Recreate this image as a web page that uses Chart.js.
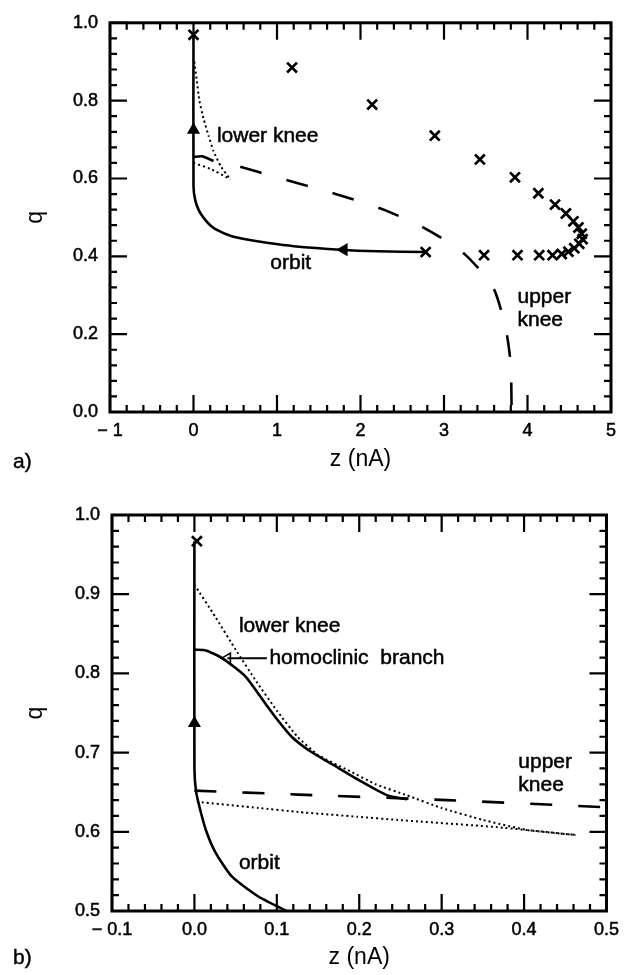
<!DOCTYPE html>
<html>
<head>
<meta charset="utf-8">
<script src="https://cdn.jsdelivr.net/npm/chart.js@4.4.1/dist/chart.umd.min.js"></script>
<style>
  body { margin: 0; background: #fff; }
  #wrap { position: relative; width: 627px; height: 975px; }
  canvas { position: absolute; left: 0; }
  .tag { position: absolute; left: 13px; font: 21px "Liberation Sans", Arial, sans-serif; color: #000;
         -webkit-text-stroke: 0.4px #000; }
</style>
</head>
<body>
<div id="wrap">
  <canvas id="chartA" width="627" height="480" style="top:0"></canvas>
  <canvas id="chartB" width="627" height="495" style="top:480px"></canvas>
  <div class="tag" style="top:449px">a)</div>
  <div class="tag" style="top:945px">b)</div>
</div>
<script>
// ---- panel a: full view ----
const orbitAZ = [2.78, 2.2, 1.76, 1.2, 0.9, 0.64, 0.45, 0.28, 0.2, 0.117, 0.06, 0.02, 0.0, 0.0];
const orbitAQ = [0.411, 0.413, 0.417, 0.426, 0.434, 0.443, 0.452, 0.468, 0.48, 0.5, 0.52, 0.545, 0.58, 0.969];
const homoAZ = [0.0, 0.1, 0.24];
const homoAQ = [0.655, 0.657, 0.645];
const kneeA1Z = [0.01, 0.04, 0.07, 0.12, 0.18, 0.24, 0.33, 0.44];
const kneeA1Q = [0.9, 0.85, 0.8, 0.754, 0.71, 0.67, 0.63, 0.598];
const kneeA2Z = [0.0, 0.2, 0.44];
const kneeA2Q = [0.64, 0.625, 0.598];
const upperAZ = [0.56, 1.0, 1.5, 1.92, 2.3, 2.7, 3.0, 3.25, 3.45, 3.6, 3.7, 3.76, 3.8, 3.81];
const upperAQ = [0.63, 0.603, 0.573, 0.546, 0.518, 0.48, 0.443, 0.405, 0.36, 0.315, 0.25, 0.19, 0.12, 0.0];
const crossAZ = [0.0, 1.18, 2.14, 2.89, 3.43, 3.85, 4.13, 4.33, 4.46, 4.55, 4.61, 4.65, 4.66, 4.62, 4.56, 4.49, 4.41, 4.3, 4.14, 3.88, 3.48, 2.78];
const crossAQ = [0.969, 0.885, 0.79, 0.71, 0.649, 0.603, 0.562, 0.533, 0.51, 0.49, 0.474, 0.458, 0.444, 0.432, 0.421, 0.412, 0.406, 0.403, 0.403, 0.403, 0.403, 0.411];
const arrowsA = [{x: 1.8, y: 0.417, rot: -90}, {x: 0.0, y: 0.725, rot: 0}];
const notesA = [
  {text: 'lower knee', x: 0.28, y: 0.708},
  {text: 'orbit', x: 0.92, y: 0.382},
  {text: 'upper', x: 3.88, y: 0.295},
  {text: 'knee', x: 3.88, y: 0.237}
];

// ---- panel b: close-up near z = 0 ----
const orbitBZ = [0.112, 0.078, 0.046, 0.026, 0.014, 0.006, 0.002, 0.0, 0.0];
const orbitBQ = [0.5, 0.518, 0.543, 0.573, 0.602, 0.632, 0.651, 0.68, 0.967];
const homoBZ = [0.0, 0.014, 0.034, 0.062, 0.086, 0.098, 0.118, 0.14, 0.166, 0.2, 0.234, 0.258];
const homoBQ = [0.83, 0.829, 0.819, 0.796, 0.762, 0.745, 0.72, 0.702, 0.686, 0.665, 0.646, 0.641];
const kneeB1Z = [0.0, 0.025, 0.05, 0.075, 0.1, 0.125, 0.15, 0.186, 0.22, 0.258, 0.3, 0.35, 0.405, 0.463];
const kneeB1Q = [0.912, 0.872, 0.83, 0.79, 0.753, 0.72, 0.697, 0.678, 0.66, 0.646, 0.63, 0.615, 0.602, 0.596];
const kneeB2Z = [0.003, 0.078, 0.126, 0.198, 0.246, 0.366, 0.463];
const kneeB2Q = [0.638, 0.63, 0.625, 0.619, 0.615, 0.606, 0.596];
const upperBZ = [0.0, 0.126, 0.306, 0.5];
const upperBQ = [0.652, 0.647, 0.64, 0.631];
const crossBZ = [0.003];
const crossBQ = [0.967];
const pointerBZ = [0.04, 0.088];
const pointerBQ = [0.819, 0.819];
const arrowsB = [{x: 0.0, y: 0.737, rot: 0}];
const notesB = [
  {text: 'lower knee', x: 0.054, y: 0.859},
  {text: 'homoclinic  branch', x: 0.091, y: 0.819},
  {text: 'upper', x: 0.393, y: 0.6885},
  {text: 'knee', x: 0.393, y: 0.659},
  {text: 'orbit', x: 0.054, y: 0.56}
];

const FONT = '"Liberation Sans", Arial, Helvetica, sans-serif';

function pts(xs, ys) {
  return xs.map((x, i) => ({x: x, y: ys[i]}));
}

function line(xs, ys, style) {
  const ds = {
    data: pts(xs, ys),
    showLine: true,
    pointRadius: 0,
    borderColor: '#000',
    borderWidth: 2.6,
    tension: 0.2,
    fill: false
  };
  if (style === 'dash') { ds.borderDash = [22, 26]; ds.borderWidth = 2.6; }
  if (style === 'dot') { ds.borderDash = [2, 3]; ds.borderWidth = 2; ds.tension = 0.15; }
  return ds;
}

function crosses(xs, ys) {
  return {
    data: pts(xs, ys),
    showLine: false,
    pointStyle: 'crossRot',
    pointRadius: 7,
    borderColor: '#000',
    borderWidth: 2.7
  };
}

function arrows(list, hollow) {
  return {
    data: list.map(a => ({x: a.x, y: a.y})),
    showLine: false,
    pointStyle: 'triangle',
    pointRadius: 6,
    rotation: list.map(a => a.rot),
    backgroundColor: hollow ? '#fff' : '#000',
    borderColor: '#000',
    borderWidth: 1.6
  };
}

// frame on all four sides with inward major/minor ticks, plus text notes
const frameTicks = {
  id: 'frameTicks',
  afterDatasetsDraw(chart, args, opts) {
    const {ctx, chartArea: a, scales: {x, y}} = chart;
    ctx.save();
    ctx.strokeStyle = '#000';
    ctx.lineCap = 'butt';
    ctx.lineWidth = 2.2;
    const nx = Math.round((opts.xMax - opts.xMin) / opts.xMinor);
    for (let i = 0; i <= nx; i++) {
      const v = opts.xMin + i * opts.xMinor;
      const len = i % opts.xEvery === 0 ? 17 : 7;
      const px = x.getPixelForValue(v);
      ctx.beginPath();
      ctx.moveTo(px, a.bottom); ctx.lineTo(px, a.bottom - len);
      ctx.moveTo(px, a.top); ctx.lineTo(px, a.top + len);
      ctx.stroke();
    }
    const ny = Math.round((opts.yMax - opts.yMin) / opts.yMinor);
    for (let i = 0; i <= ny; i++) {
      const v = opts.yMin + i * opts.yMinor;
      const len = i % opts.yEvery === 0 ? 17 : 7;
      const py = y.getPixelForValue(v);
      ctx.beginPath();
      ctx.moveTo(a.left, py); ctx.lineTo(a.left + len, py);
      ctx.moveTo(a.right, py); ctx.lineTo(a.right - len, py);
      ctx.stroke();
    }
    ctx.lineWidth = 3;
    ctx.strokeRect(a.left, a.top, a.right - a.left, a.bottom - a.top);

    ctx.fillStyle = '#000';
    ctx.font = '21px ' + FONT;
    ctx.lineWidth = 0.5;
    ctx.textAlign = 'left';
    ctx.textBaseline = 'middle';
    opts.notes.forEach(n => {
      const px = x.getPixelForValue(n.x), py = y.getPixelForValue(n.y);
      ctx.fillText(n.text, px, py);
      ctx.strokeText(n.text, px, py);
    });
    ctx.restore();
  }
};

function makeChart(id, datasets, cfg) {
  return new Chart(document.getElementById(id), {
    type: 'scatter',
    data: {datasets: datasets},
    options: {
      responsive: false,
      animation: false,
      events: [],
      layout: {padding: {top: cfg.top, right: cfg.right, left: 0, bottom: 0}},
      scales: {
        x: {
          type: 'linear',
          min: cfg.xMin, max: cfg.xMax,
          grid: {display: false, drawTicks: false},
          border: {display: false},
          ticks: {
            stepSize: cfg.xStep, autoSkip: false, maxRotation: 0, padding: 8,
            color: '#000', font: {family: FONT, size: 18},
            textStrokeColor: '#000', textStrokeWidth: 0.5,
            callback: v => {
              const s = Math.abs(v).toFixed(cfg.xDigits);
              return v < -1e-9 ? '\u2212 ' + s : s;
            }
          },
          title: {display: true, text: 'z (nA)', color: '#000',
                  font: {family: FONT, size: 23}, padding: {top: 0, bottom: cfg.titlePad}},
          afterFit: s => { s.height = cfg.xHeight; }
        },
        y: {
          type: 'linear',
          min: cfg.yMin, max: cfg.yMax,
          grid: {display: false, drawTicks: false},
          border: {display: false},
          ticks: {
            stepSize: cfg.yStep, autoSkip: false, padding: 12,
            color: '#000', font: {family: FONT, size: 18},
            textStrokeColor: '#000', textStrokeWidth: 0.5,
            callback: v => v.toFixed(1)
          },
          title: {display: true, text: 'q', color: '#000',
                  font: {family: FONT, size: 23}, padding: {top: 22, bottom: 0}},
          afterFit: s => { s.width = cfg.yWidth; }
        }
      },
      plugins: {
        legend: {display: false},
        tooltip: {enabled: false},
        frameTicks: {
          xMin: cfg.xMin, xMax: cfg.xMax, xMinor: cfg.xMinor, xEvery: cfg.xEvery,
          yMin: cfg.yMin, yMax: cfg.yMax, yMinor: cfg.yMinor, yEvery: cfg.yEvery,
          notes: cfg.notes
        }
      }
    },
    plugins: [frameTicks]
  });
}

makeChart('chartA', [
  line(orbitAZ, orbitAQ),
  line(homoAZ, homoAQ),
  line(kneeA1Z, kneeA1Q, 'dot'),
  line(kneeA2Z, kneeA2Q, 'dot'),
  line(upperAZ, upperAQ, 'dash'),
  crosses(crossAZ, crossAQ),
  arrows(arrowsA, false)
], {
  top: 16, right: 16, xHeight: 68, yWidth: 110, titlePad: 7,
  xMin: -1, xMax: 5, xStep: 1, xDigits: 0, xMinor: 0.2, xEvery: 5,
  yMin: 0, yMax: 1, yStep: 0.2, yMinor: 0.04, yEvery: 5,
  notes: notesA
});

makeChart('chartB', [
  line(orbitBZ, orbitBQ),
  line(homoBZ, homoBQ),
  line(kneeB1Z, kneeB1Q, 'dot'),
  line(kneeB2Z, kneeB2Q, 'dot'),
  line(upperBZ, upperBQ, 'dash'),
  Object.assign(line(pointerBZ, pointerBQ), {borderWidth: 2, tension: 0}),
  crosses(crossBZ, crossBQ),
  arrows(arrowsB, false),
  arrows([{x: pointerBZ[0], y: pointerBQ[0], rot: -90}], true)
], {
  top: 35, right: 15, xHeight: 64, yWidth: 112, titlePad: 4,
  xMin: -0.1, xMax: 0.5, xStep: 0.1, xDigits: 1, xMinor: 0.02, xEvery: 5,
  yMin: 0.5, yMax: 1.0, yStep: 0.1, yMinor: 0.02, yEvery: 5,
  notes: notesB
});
</script>
</body>
</html>
